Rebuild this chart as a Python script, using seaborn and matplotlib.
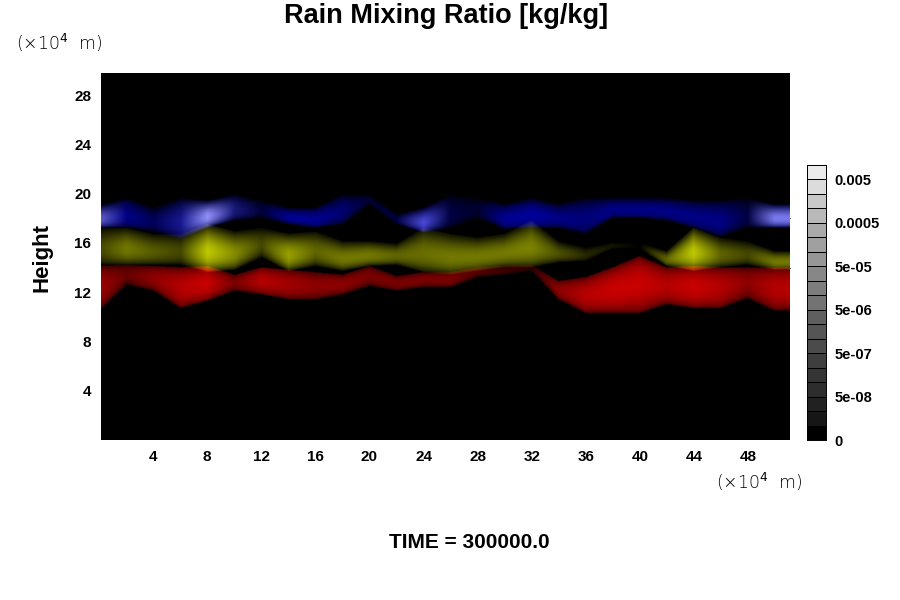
import numpy as np
import matplotlib
matplotlib.use("Agg")
import matplotlib.pyplot as plt
import seaborn as sns

# Column positions (x10^4 m); band edges are heights (x10^4 m), levels are 0-10
x_pos = list(range(0, 52, 2))

red_top = [14.1,14.2,14.1,14.0,14.1,13.4,14.0,13.8,13.6,13.4,14.1,13.3,13.6,13.6,14.0,14.1,14.2,12.9,13.2,14.0,14.9,14.0,14.1,14.0,14.0,14.0]
red_bot = [10.5,12.6,12.1,10.7,11.3,12.1,11.8,11.4,11.4,11.8,12.5,12.1,12.4,12.4,13.2,13.4,13.7,11.4,10.3,10.3,10.3,11.0,10.7,10.7,11.5,10.5]
red_lvl = [8,5,7,9,10,6,9,8,7,7,6,6,6,6,4,3,2,7,9,10,10,9,10,9,7,9]

yel_top = [17.2,17.2,16.7,16.7,17.5,16.9,17.2,16.7,16.9,16.1,16.1,15.9,17.2,16.7,16.4,16.7,17.8,16.1,15.6,16.0,16.0,15.3,17.2,16.4,16.1,15.3]
yel_bot = [14.2,14.2,14.2,14.2,13.6,13.8,14.8,13.7,14.1,13.7,14.1,14.2,13.6,13.4,13.7,14.0,14.0,14.4,14.5,15.5,15.5,14.1,13.7,14.0,14.2,13.8]
yel_lvl = [3.5,6,4.5,3.5,10,7,3.5,8,5,6,6,5,5.5,6,6,6,6.5,4,2,1,0,5,10,5,3.5,6]

blu_top = [19.0,19.6,18.8,19.6,19.4,19.9,19.4,18.8,18.8,19.9,19.9,18.3,18.8,19.9,19.6,19.1,19.6,19.1,19.6,19.6,19.6,19.6,19.4,19.4,19.6,19.1]
blu_bot = [17.2,17.2,16.9,16.3,17.2,17.8,18.0,17.5,17.2,17.5,19.1,17.5,16.8,17.2,18.0,17.1,17.2,17.2,16.7,18.0,18.0,17.8,17.2,16.5,17.2,17.2]
blu_lvl = [7,6,4,6,8,5,2.5,6.5,6.5,5,2,3,8,3,2,6.5,7,6,5.5,6,6,6,6,6,3,8]
pale_lvl = [4,0,0,1,6,1,0,0,0,0,0,0,3,0,0,0,0,0,0,0,0,0,0,0,0,5]

# Colour bar
level_grays = [0,22,33,45,52,62,75,85,95,115,125,135,150,160,170,185,200,220,235]
level_labels = ["0","5e-08","5e-07","5e-06","5e-05","0.0005","0.005"]
x_ticks = [4,8,12,16,20,24,28,32,36,40,44,48]
y_ticks = [4,8,12,16,20,24,28]
inner_marks = [12,14,18]

fine_x = np.arange(0, 51.2, 0.1)
fine_h = np.arange(9.5, 21, 0.05)

def band(top, bot, lvl, floor, sharp, skew):
    t = np.interp(fine_x, x_pos, top)[None, :]
    b = np.interp(fine_x, x_pos, bot)[None, :]
    l = np.interp(fine_x, x_pos, lvl)[None, :]
    u = np.clip((fine_h[:, None] - b) / (t - b), 0, 1)
    inside = (u > 0) & (u < 1)
    return l * inside * (floor + (1 - floor) * np.sin(np.pi * u ** skew) ** sharp)

red = band(red_top, red_bot, red_lvl, 0.25, 0.5, 1.0)
yel = band(yel_top, yel_bot, yel_lvl, 0.1, 1.0, 0.8)
blu = band(blu_top, blu_bot, blu_lvl, 0.1, 0.7, 0.75)
pal = band(blu_top, blu_bot, pale_lvl, 0.0, 1.2, 0.75)

rgb = np.stack([red*20 + yel*19 + pal*24, yel*20 + pal*24, blu*22 + pal*12], axis=-1)
rgb = np.clip(rgb, 0, 255) / 255

sns.set_theme(style="white")
FONT = "Liberation Sans"
fig = plt.figure(figsize=(9, 6), dpi=100, facecolor="white")
W, H = 900, 600
ax = fig.add_axes([101/W, 1-440/H, 689/W, 367/H])
base = np.zeros((30, 52))
sns.heatmap(base, ax=ax, cmap="gray", vmin=0, vmax=1, cbar=False, xticklabels=False, yticklabels=False)
ax.imshow(rgb, origin="lower", aspect="auto", interpolation="bilinear",
          extent=[fine_x[0], fine_x[-1], fine_h[0], fine_h[-1]], zorder=2)
ax.set_xlim(0.15, 51.1)
ax.set_ylim(0, 29.8)
ax.set_xticks(x_ticks, [str(t) for t in x_ticks], fontfamily=FONT, fontweight="bold", fontsize=11)
ax.set_yticks(y_ticks, [str(t) for t in y_ticks], fontfamily=FONT, fontweight="bold", fontsize=11)
ax.set_yticks(inner_marks, minor=True)
ax.tick_params(axis="both", which="major", length=0, labelcolor="black", pad=7)
ax.tick_params(axis="y", which="minor", direction="in", length=5, width=0.8, color="black",
               left=True, right=True)
for s in ax.spines.values():
    s.set_visible(False)

fig.text(446/W, 1-16/H, "Rain Mixing Ratio [kg/kg]", ha="center", va="center",
         fontfamily=FONT, fontweight="bold", fontsize=19.5, color="black")
for cx, cy in [(59, 43), (759, 482)]:
    fig.text(cx/W, 1-cy/H, "(×10$^{4}$  m)", ha="center", va="center", fontfamily="DejaVu Sans",
             fontsize=12.5, color="black", fontweight="light")
fig.text(42/W, 1-257/H, "Height", rotation=90, ha="center", va="center",
         fontfamily=FONT, fontweight="bold", fontsize=16, color="black")
fig.text(469/W, 1-543/H, "TIME = 300000.0", ha="center", va="center",
         fontfamily=FONT, fontweight="bold", fontsize=15, color="black")

cax = fig.add_axes([807/W, 1-440/H, 19/W, 275/H])
lev = np.array(level_grays)[:, None]
sns.heatmap(lev, ax=cax, cmap="gray", vmin=0, vmax=255, cbar=False,
            linewidths=0.5, linecolor="black", xticklabels=False)
cax.set_ylim(0, len(level_grays))
cax.set_yticks(range(0, 3*len(level_labels), 3), level_labels, rotation=0,
               fontfamily=FONT, fontweight="bold", fontsize=10.5)
cax.yaxis.tick_right()
cax.tick_params(axis="y", length=0, pad=6, labelcolor="black")
for s in cax.spines.values():
    s.set_visible(True); s.set_color("black"); s.set_linewidth(0.7)

fig.savefig("out.png", dpi=100, facecolor="white")
